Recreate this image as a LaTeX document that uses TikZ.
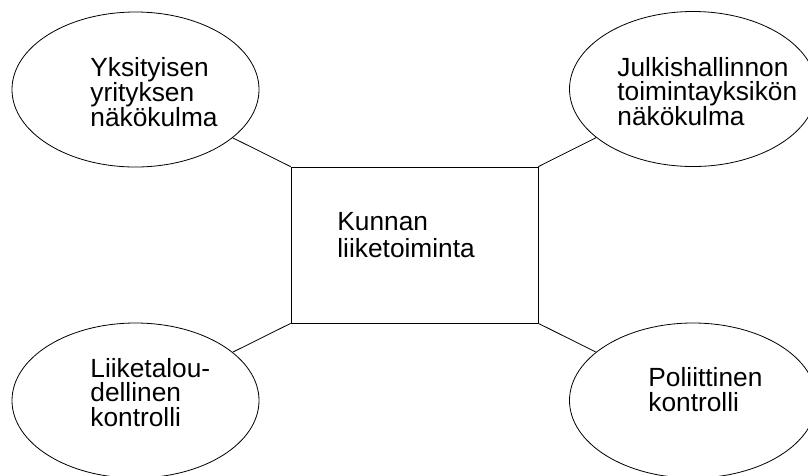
\documentclass[tikz,border=0pt]{standalone}
\usepackage{fontspec}
\setmainfont{Liberation Sans}
\usetikzlibrary{shapes.geometric}

\begin{document}
\begin{tikzpicture}[x=1pt,y=-1pt,line width=0.8pt,
    nakokulma/.style={draw,ellipse,inner sep=0pt,minimum width=247pt,minimum height=155pt},
    teksti/.style={anchor=base west,align=left,inner sep=0pt,font=\fontsize{26.3}{24.8}\selectfont}]
  \useasboundingbox (0,0) rectangle (808,475);
  \node[draw,inner sep=0pt,minimum width=247pt,minimum height=156pt] (kunta) at (414.5,245) {};
  \node[nakokulma] (yksityinen) at (135.5,89.5) {};
  \node[nakokulma] (julkinen) at (693,89) {};
  \node[nakokulma] (talous) at (135.5,400.5) {};
  \node[nakokulma] (politiikka) at (693,400.5) {};
  % ankkuri = viimeisen rivin peruslinja
  \node[teksti,font=\fontsize{26.3}{27.5}\selectfont] (t-kunta) at (337,257.5) {Kunnan\\liiketoiminta};
  \node[teksti] (t-yksityinen) at (90,126.3) {Yksityisen\\yrityksen\\näkökulma};
  \node[teksti] (t-julkinen) at (617,125.6) {Julkishallinnon\\toimintayksikön\\näkökulma};
  \node[teksti] (t-talous) at (90,426.6) {Liiketalou-\\dellinen\\kontrolli};
  \node[teksti] (t-politiikka) at (648,411.7) {Poliittinen\\kontrolli};
  \draw (kunta.north west) -- (yksityinen);
  \draw (kunta.north east) -- (julkinen);
  \draw (kunta.south west) -- (talous);
  \draw (kunta.south east) -- (politiikka);
\end{tikzpicture}
\end{document}
